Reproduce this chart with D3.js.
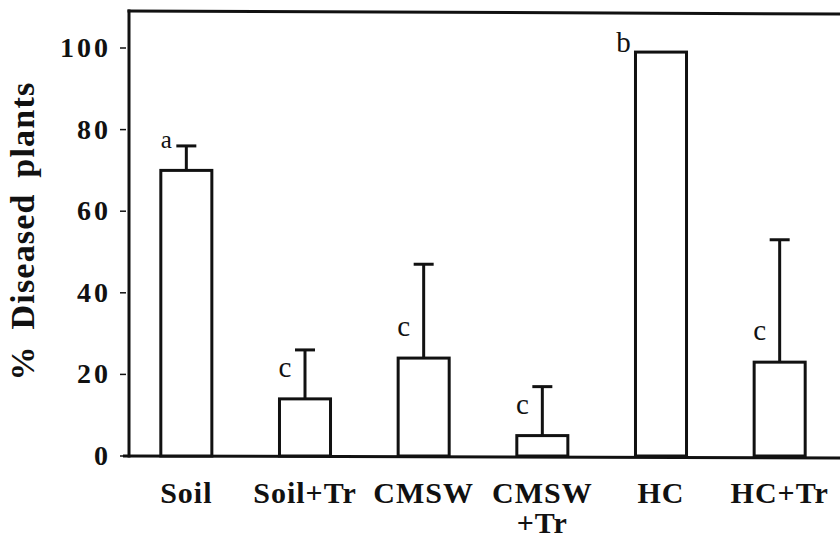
<!DOCTYPE html>
<html>
<head>
<meta charset="utf-8">
<script src="https://cdn.jsdelivr.net/npm/d3@7/dist/d3.min.js"></script>
<style>
  html, body { margin: 0; padding: 0; background: #fff; }
  svg { display: block; }
</style>
</head>
<body>
<svg id="chart" width="840" height="542"></svg>
<script>
// Treatments (label lines), mean % diseased plants, upper error, significance letters
const categories = [["Soil"], ["Soil+Tr"], ["CMSW"], ["CMSW", "+Tr"], ["HC"], ["HC+Tr"]];
const values = [70, 14, 24, 5, 99, 23];
const errors = [6, 12, 23, 12, 0, 30];
const letters = ["a", "c", "c", "c", "b", "c"];
const yTicks = [0, 20, 40, 60, 80, 100];

const svg = d3.select("#chart");
const W = 840;
const plot = { left: 129, top: 11, bottom: 456 };

const x = d3.scaleBand()
  .domain(d3.range(categories.length))
  .range([127, 839])
  .paddingInner(0.57)
  .paddingOuter(0.285);

const y = d3.scaleLinear()
  .domain([0, 100])
  .range([plot.bottom, 48]);

const serif = "'Liberation Serif', 'Times New Roman', serif";
const ink = "#111";

// Frame: left axis, top line, baseline
svg.append("line")
  .attr("x1", plot.left).attr("x2", plot.left)
  .attr("y1", plot.top - 1.5).attr("y2", plot.bottom + 1.5)
  .attr("stroke", ink).attr("stroke-width", 3);
svg.append("line")
  .attr("x1", plot.left - 1.5).attr("x2", W)
  .attr("y1", plot.top).attr("y2", plot.top + 3)
  .attr("stroke", ink).attr("stroke-width", 3);
svg.append("line")
  .attr("x1", 123).attr("x2", W)
  .attr("y1", plot.bottom).attr("y2", plot.bottom + 2)
  .attr("stroke", ink).attr("stroke-width", 3);

// Y axis ticks and labels
const yAxis = svg.append("g");
yAxis.selectAll("line.tick")
  .data(yTicks).enter().append("line")
  .attr("class", "tick")
  .attr("x1", 120).attr("x2", 126)
  .attr("y1", d => y(d)).attr("y2", d => y(d))
  .attr("stroke", ink).attr("stroke-width", 1.5);
yAxis.selectAll("text")
  .data(yTicks).enter().append("text")
  .attr("x", 111)
  .attr("y", d => y(d) + 9)
  .attr("text-anchor", "end")
  .attr("font-family", serif)
  .attr("font-weight", "bold")
  .attr("font-size", 28)
  .attr("letter-spacing", 3)
  .attr("fill", ink)
  .text(d => d);

// Y axis title
svg.append("text")
  .attr("transform", "translate(34,231) rotate(-90)")
  .attr("text-anchor", "middle")
  .attr("font-family", serif)
  .attr("font-weight", "bold")
  .attr("font-size", 34)
  .attr("letter-spacing", 1.2)
  .attr("word-spacing", 6)
  .attr("fill", ink)
  .text("% Diseased plants");

// Bars
const idx = d3.range(values.length);
svg.append("g").selectAll("rect")
  .data(idx).enter().append("rect")
  .attr("x", i => x(i))
  .attr("y", i => y(values[i]))
  .attr("width", x.bandwidth())
  .attr("height", i => y(0) - y(values[i]))
  .attr("fill", "#fff")
  .attr("stroke", ink)
  .attr("stroke-width", 3);

// Upper error bars
const withErr = idx.filter(i => errors[i] > 0);
const cx = i => x(i) + x.bandwidth() / 2;
const eb = svg.append("g").attr("stroke", ink).attr("stroke-width", 3);
eb.selectAll("line.stem")
  .data(withErr).enter().append("line")
  .attr("class", "stem")
  .attr("x1", cx).attr("x2", cx)
  .attr("y1", i => y(values[i]))
  .attr("y2", i => y(values[i] + errors[i]));
eb.selectAll("line.cap")
  .data(withErr).enter().append("line")
  .attr("class", "cap")
  .attr("x1", i => cx(i) - 10).attr("x2", i => cx(i) + 10)
  .attr("y1", i => y(values[i] + errors[i]))
  .attr("y2", i => y(values[i] + errors[i]));

// Significance letters: beside the error stem, or at the bar's corner when there is none
svg.append("g").selectAll("text")
  .data(idx).enter().append("text")
  .attr("x", i => errors[i] > 0 ? cx(i) - 20 : x(i) - 12)
  .attr("y", i => errors[i] > 0 ? y(values[i]) - 22 : y(values[i]))
  .attr("text-anchor", "middle")
  .attr("font-family", serif)
  .attr("font-size", i => letters[i] === "a" ? 25 : 29)
  .attr("fill", ink)
  .text(i => letters[i]);

// Category labels
const xl = svg.append("g");
idx.forEach(i => {
  categories[i].forEach((line, k) => {
    xl.append("text")
      .attr("x", cx(i))
      .attr("y", 503 + k * 30)
      .attr("text-anchor", "middle")
      .attr("font-family", serif)
      .attr("font-weight", "bold")
      .attr("font-size", 30)
      .attr("letter-spacing", 1)
      .attr("fill", ink)
      .text(line);
  });
});
</script>
</body>
</html>
